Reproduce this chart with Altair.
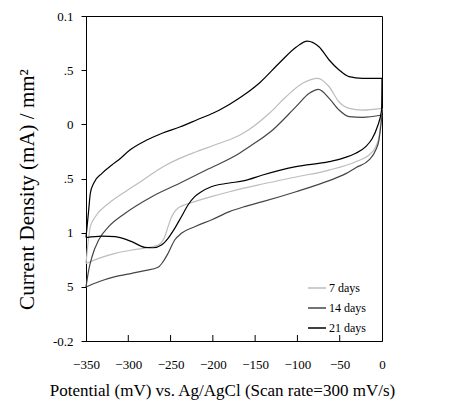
import altair as alt
import pandas as pd

SERIES = ["7 days", "14 days", "21 days"]
COLORS = ["#bdbdbd", "#454545", "#000000"]

# ---- 7 days: forward scan (-350 -> 0) and reverse scan (0 -> -350)
E7F = [-350, -347.6, -344.9, -339.0, -323.2, -303.7, -282.5, -258.9, -239.2, -219.5,
       -192.1, -168.5, -156.7, -133.2, -113.5, -93.9, -75.8, -62.5, -50.7, -38.9, -23.2, 0]
I7F = [-0.1285, -0.1098, -0.0945, -0.0853, -0.0729, -0.0622, -0.0514, -0.0391, -0.0314, -0.0253,
       -0.0175, -0.0100, -0.0045, 0.0102, 0.0255, 0.0379, 0.0425, 0.0347, 0.0206, 0.0148, 0.0132, 0.0148]
E7R = [0, -3.5, -7.4, -15.3, -31.0, -62.5, -101.7, -141.1, -180.3, -201.9, -221.5, -237.2,
       -241.0, -245.1, -249.0, -253.0, -256.9, -264.8, -280.5, -295.8, -315.5, -335.0, -350]
I7R = [0.0148, -0.0114, -0.0206, -0.0283, -0.0345, -0.0422, -0.0486, -0.0551, -0.0622, -0.0668,
       -0.0714, -0.0755, -0.0772, -0.0805, -0.0858, -0.0945, -0.1037, -0.1114, -0.1142, -0.1160,
       -0.1191, -0.1237, -0.1285]

# ---- 14 days
E14F = [-350, -346.8, -342.9, -335.0, -323.2, -303.7, -272.2, -239.2, -207.8, -168.5, -156.7,
        -129.3, -101.7, -86.0, -75.1, -62.5, -50.7, -38.9, -23.2, 0]
I14F = [-0.1502, -0.1345, -0.1222, -0.1068, -0.0945, -0.0821, -0.0668, -0.0544, -0.0422, -0.0267,
        -0.0206, -0.0052, 0.0163, 0.0286, 0.0323, 0.0240, 0.0132, 0.0072, 0.0065, 0.0086]
E14R = [0, -3.6, -7.4, -15.3, -31.0, -42.8, -62.5, -101.7, -141.1, -162.6, -180.3, -201.9,
        -221.5, -237.2, -245.1, -253.0, -258.9, -264.8, -280.5, -295.8, -315.5, -335.0, -350]
I14R = [0.0086, -0.0145, -0.0237, -0.0329, -0.0400, -0.0455, -0.0520, -0.0622, -0.0714, -0.0760,
        -0.0806, -0.0883, -0.0945, -0.1006, -0.1068, -0.1191, -0.1268, -0.1320, -0.1351, -0.1375,
        -0.1406, -0.1453, -0.1502]

# ---- 21 days
E21F = [-350, -346.8, -344.9, -340.9, -331.1, -319.4, -311.5, -298.1, -278.1, -259.3, -239.2,
        -219.2, -192.1, -168.5, -144.9, -121.4, -101.3, -88.4, -74.2, -62.5, -50.7, -38.9, -23.2, 0]
I21F = [-0.1045, -0.0791, -0.0637, -0.0544, -0.0452, -0.0375, -0.0329, -0.0237, -0.0145, -0.0080,
        -0.0025, 0.0040, 0.0132, 0.0243, 0.0382, 0.0566, 0.0714, 0.0769, 0.0714, 0.0594, 0.0502,
        0.0440, 0.0425, 0.0425]
E21R = [0, -0.5, -5.5, -11.4, -19.2, -31.0, -46.8, -62.5, -101.7, -141.1, -162.6, -182.3, -201.9,
        -213.6, -221.5, -229.4, -237.2, -245.1, -253.0, -260.8, -270.7, -280.5, -295.8, -315.5,
        -331.1, -350]
I21R = [0.0425, 0.0132, -0.0022, -0.0129, -0.0206, -0.0267, -0.0314, -0.0345, -0.0391, -0.0468,
        -0.0520, -0.0544, -0.0576, -0.0622, -0.0668, -0.0745, -0.0853, -0.0960, -0.1052, -0.1114,
        -0.1139, -0.1135, -0.1083, -0.1037, -0.1031, -0.1045]

X_TICKS = [-350, -300, -250, -200, -150, -100, -50, 0]
X_INNER_TICKS = [-300, -250, -200, -150, -100, -50]
Y_TICKS = [0.1, 0.05, 0, -0.05, -0.1, -0.15, -0.2]
Y_LABELS = ["0.1", ".5", "0", ".5", "1", "5", "-0.2"]

rows = []
idx = 0
for name, branches in [
    ("7 days", [("f", E7F, I7F), ("r", E7R, I7R)]),
    ("14 days", [("f", E14F, I14F), ("r", E14R, I14R)]),
    ("21 days", [("f", E21F, I21F), ("r", E21R, I21R)]),
]:
    for b, es, iss in branches:
        for e, i in zip(es, iss):
            rows.append({"series": name, "branch": name + b, "E": e, "I": i, "idx": idx})
            idx += 1
df = pd.DataFrame(rows)

FONT = "Liberation Serif"

y_expr = " : ".join(
    f"round(datum.value*100)=={round(v*100)} ? '{lab}'" for v, lab in zip(Y_TICKS, Y_LABELS)
) + " : ''"

xscale = alt.Scale(domain=[-350, 0], nice=False, zero=False)
yscale = alt.Scale(domain=[-0.2, 0.1], nice=False, zero=False)

lines = alt.Chart(df).mark_line(interpolate="monotone", strokeWidth=1.2).encode(
    x=alt.X("E:Q", scale=xscale, axis=alt.Axis(
        values=X_TICKS, ticks=False, labelPadding=17, labelFont=FONT, labelFontSize=13,
        labelFlush=False, labelOverlap=False,
        labelColor="black", domainColor="black", grid=False,
        title="Potential (mV) vs. Ag/AgCl (Scan rate=300 mV/s)",
        titleFont=FONT, titleFontSize=17, titleFontWeight="normal", titleColor="black",
        titleX=136, titleY=54, titleBaseline="alphabetic")),
    y=alt.Y("I:Q", scale=yscale, axis=alt.Axis(
        values=Y_TICKS, labelExpr=y_expr, tickSize=5, tickColor="black", labelPadding=8,
        labelFlush=False, labelOverlap=False,
        labelFont=FONT, labelFontSize=13, labelColor="black", domainColor="black", grid=False,
        title="Current Density (mA) / mm²", titleFont=FONT, titleFontSize=21,
        titleFontWeight="normal", titleColor="black", titleX=-53, titleY=173,
        titleBaseline="alphabetic", titleAlign="center")),
    color=alt.Color("series:N", scale=alt.Scale(domain=SERIES, range=COLORS),
                    legend=alt.Legend(title=None, orient="none", legendX=221, legendY=262,
                                      symbolType="stroke", symbolSize=324, symbolStrokeWidth=1.5,
                                      labelFont=FONT, labelFontSize=12, labelColor="black",
                                      labelOffset=2, rowPadding=4, padding=0)),
    detail="branch:N",
    order="idx:Q",
)

ticks_df = pd.DataFrame({"v": X_INNER_TICKS})
xticks = alt.Chart(ticks_df).mark_rule(color="black", strokeWidth=1).encode(
    x=alt.X("v:Q", scale=xscale),
    y=alt.value(325),
    y2=alt.value(319),
)

chart = alt.layer(lines, xticks).properties(
    width=296, height=325,
    autosize=alt.AutoSizeParams(type="none"),
    padding={"left": 78, "top": 8, "right": 20, "bottom": 70},
).configure_view(stroke="black", strokeWidth=1).configure_axis(grid=False)

chart.save("out.html", embed_options={"renderer": "svg", "actions": False})
